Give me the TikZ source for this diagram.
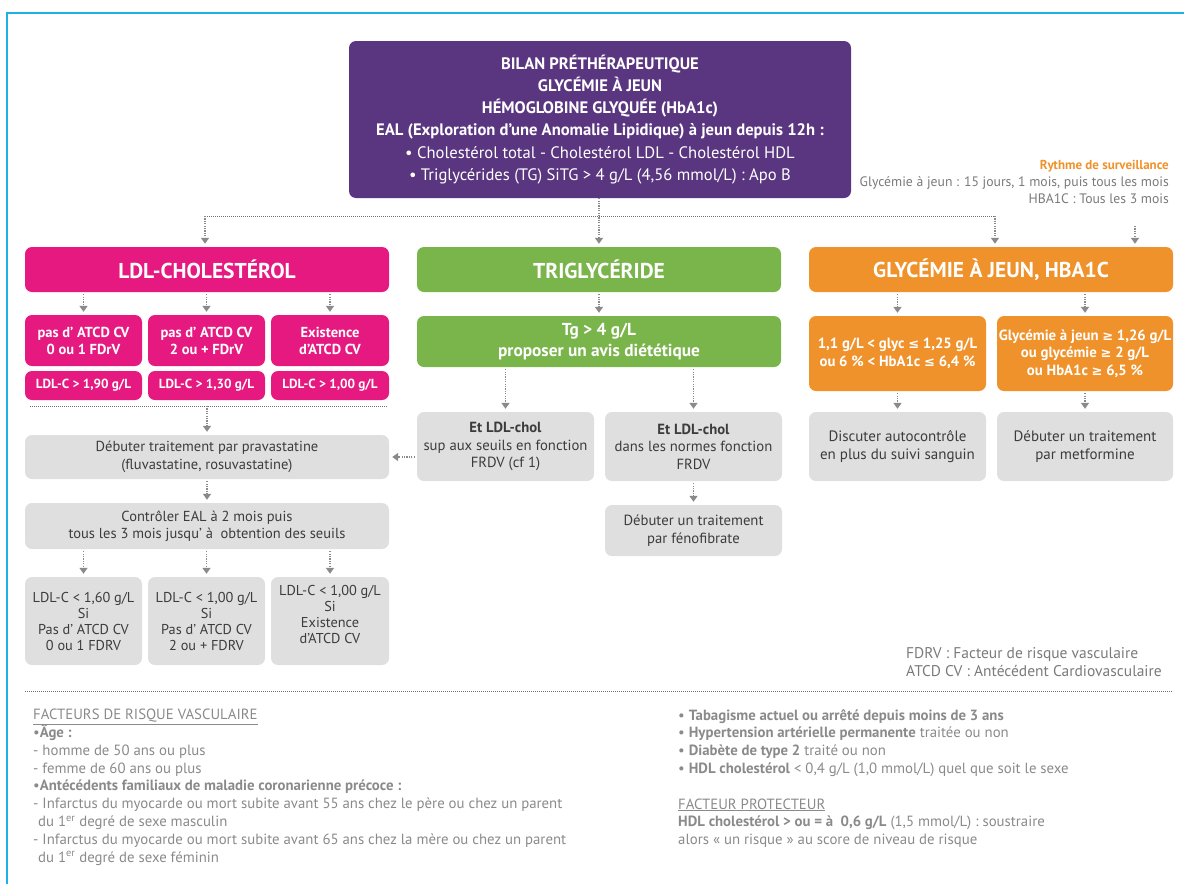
\documentclass[tikz,border=0pt]{standalone}
\usepackage{fontspec}
\setmainfont{PT Sans}
\newfontfamily\symf{DejaVu Sans}
\newcommand{\myle}{{\symf\fontsize{13}{16}\selectfont ≤}}
\newcommand{\myge}{{\symf\fontsize{13}{16}\selectfont ≥}}
\usetikzlibrary{arrows.meta}
\definecolor{purp}{HTML}{5B3680}
\definecolor{pinkc}{HTML}{E5197F}
\definecolor{greenc}{HTML}{7AB54B}
\definecolor{orangec}{HTML}{F0922B}
\definecolor{grayb}{HTML}{DFDFDF}
\definecolor{grayt}{HTML}{3C3C3C}
\definecolor{arrc}{HTML}{8A8A8A}
\definecolor{sepc}{HTML}{707070}
\definecolor{framec}{HTML}{1EB0E6}
\definecolor{notec}{HTML}{8A8A8A}
\definecolor{legc}{HTML}{7A7A7A}
\tikzset{
  box/.style={rounded corners=7pt, inner sep=0pt, align=center},
  hbox/.style={box, text=white, minimum width=364pt, minimum height=45pt, font=\bfseries\fontsize{21.5}{24}\selectfont},
  pbox/.style={box, fill=pinkc, text=white, minimum width=117pt, font=\bfseries\fontsize{14.5}{17}\selectfont},
  obox/.style={box, fill=orangec, text=white, minimum width=177pt, minimum height=75pt, font=\bfseries\fontsize{14.8}{17.5}\selectfont},
  gbox/.style={box, fill=grayb, text=grayt, font=\fontsize{14.7}{17.5}\selectfont},
  arr/.style={draw=arrc, line width=1.5pt, dash pattern=on 1.2pt off 1.2pt, -{Triangle[width=8pt,length=6pt]}, shorten >=3pt, shorten <=2pt},
  sep/.style={draw=sepc, line width=1pt, dash pattern=on 1pt off 1pt},
  note/.style={inner sep=0pt, align=left, text=notec, font=\fontsize{14.8}{17.8}\selectfont},
}
\begin{document}
\begin{tikzpicture}[x=1pt,y=-1pt]
\useasboundingbox (0,0) rectangle (1184,884);
\draw[framec, line width=1.5pt] (7,884) -- (7,13) -- (1184,13);

% top box
\node[box, fill=purp, text=white, minimum width=502pt, minimum height=157pt, font=\fontsize{16.6}{22.2}\selectfont] (top) at (600,119.5)
 {\textbf{BILAN PRÉTHÉRAPEUTIQUE}\\
  \textbf{GLYCÉMIE À JEUN}\\
  \textbf{HÉMOGLOBINE GLYQUÉE (HbA1c)}\\
  \textbf{EAL (Exploration d’une Anomalie Lipidique) à jeun depuis 12h :}\\
  • Cholestérol total - Cholestérol LDL - Cholestérol HDL\\
  • Triglycérides (TG) SiTG > 4 g/L (4,56 mmol/L) : Apo B};

\node[inner sep=0pt, align=right, anchor=north east, text=legc, font=\fontsize{13.7}{17}\selectfont] (ry) at (1169,160)
 {{\fontsize{13}{17}\selectfont\textcolor{orangec}{\textbf{Rythme de surveillance}}}\\
  Glycémie à jeun : 15 jours, 1 mois, puis tous les mois\\
  HBA1C : Tous les 3 mois};

% headers
\node[hbox, fill=pinkc] (ldl) at (207,269.5) {LDL-CHOLESTÉROL};
\node[hbox, fill=greenc] (tri) at (599,269.5) {TRIGLYCÉRIDE};
\node[hbox, fill=orangec] (gly) at (991,269.5) {GLYCÉMIE À JEUN, HBA1C};

\coordinate (hl) at (205,216);
\coordinate (hr) at (995,216);
\coordinate (hm) at (599,216);
\coordinate (rya) at (1135,226);
\draw[sep] (hl) -- (hr);
\draw[arr, shorten <=0pt] (top.south -| hm) -- (tri.north);
\draw[arr, shorten <=0pt] (hl) -- (hl |- ldl.north);
\draw[arr, shorten <=0pt] (hr) -- (hr |- gly.north);
\draw[arr, shorten <=0pt] (rya) -- (rya |- gly.north);

% LDL column
\node[pbox, minimum height=51pt] (p1) at (83.5,340.5) {pas d’ ATCD CV\\0 ou 1 FDrV};
\node[pbox, minimum height=51pt] (p2) at (206.5,340.5) {pas d’ ATCD CV\\2 ou + FDrV};
\node[pbox, minimum height=51pt, minimum width=118pt] (p3) at (330,340.5) {Existence\\d’ATCD CV};
\node[pbox, minimum height=29pt, font=\bfseries\fontsize{13.2}{16}\selectfont] (q1) at (83.5,385.5) {LDL-C > 1,90 g/L};
\node[pbox, minimum height=29pt, font=\bfseries\fontsize{13.2}{16}\selectfont] (q2) at (206.5,385.5) {LDL-C > 1,30 g/L};
\node[pbox, minimum height=29pt, minimum width=118pt, font=\bfseries\fontsize{13.2}{16}\selectfont] (q3) at (330,385.5) {LDL-C > 1,00 g/L};
\foreach \n in {p1,p2,p3} \draw[arr] (ldl.south -| \n.north) -- (\n.north);

\coordinate (sl) at (30,406);
\coordinate (sr) at (388,406);
\coordinate (sm) at (207,406);
\draw[sep] (sl) -- (sr);

\node[gbox, minimum width=364pt, minimum height=44pt, font=\fontsize{14.5}{17.5}\selectfont] (g1) at (207,457) {Débuter traitement par pravastatine\\(fluvastatine, rosuvastatine)};
\node[gbox, minimum width=364pt, minimum height=46pt, font=\fontsize{14.5}{17.5}\selectfont] (g2) at (207,526) {Contrôler EAL à 2 mois puis\\tous les 3 mois jusqu’ à \ obtention des seuils};
\draw[arr, shorten <=0pt] (sm) -- (g1.north -| sm);
\draw[arr] (g1.south) -- (g2.north);

\node[gbox, minimum width=117pt, minimum height=88pt, font=\fontsize{14.3}{16}\selectfont] (b1) at (83.5,621) {LDL-C < 1,60 g/L\\Si\\Pas d’ ATCD CV\\0 ou 1 FDRV};
\node[gbox, minimum width=117pt, minimum height=88pt, font=\fontsize{14.3}{16}\selectfont] (b2) at (206.5,621) {LDL-C < 1,00 g/L\\Si\\Pas d’ ATCD CV\\2 ou + FDRV};
\node[gbox, minimum width=118pt, minimum height=88pt] (b3) at (330,621) {};
\node[inner sep=0pt, align=center, text=grayt, font=\fontsize{14.3}{16}\selectfont, yshift=7pt] (b3t) at (b3.center) {LDL-C < 1,00 g/L\\Si\\Existence\\d’ATCD CV};
\foreach \n in {b1,b2,b3} \draw[arr] (g2.south -| \n.north) -- (\n.north);

% Triglyceride column
\node[box, fill=greenc, text=white, minimum width=364pt, minimum height=51pt, font=\bfseries\fontsize{17.3}{20.5}\selectfont] (tg) at (599,341.5) {Tg > 4 g/L\\proposer un avis diététique};
\draw[arr] (tri.south) -- (tg.north);
\node[gbox, minimum width=177pt, minimum height=69pt] (tl) at (505.5,446.5) {\textbf{Et LDL-chol}\\sup aux seuils en fonction\\FRDV (cf 1)};
\node[gbox, minimum width=177pt, minimum height=69pt] (tr) at (693.5,446.5) {\textbf{Et LDL-chol}\\dans les normes fonction\\FRDV};
\node[gbox, minimum width=177pt, minimum height=51pt] (tf) at (693.5,530.5) {Débuter un traitement\\par fénofibrate};
\draw[arr] (tg.south -| tl.north) -- (tl.north);
\draw[arr] (tg.south -| tr.north) -- (tr.north);
\draw[arr] (tr.south) -- (tf.north);
\draw[arr] (g1.east -| tl.west) -- (g1.east);

% Glycemia column
\node[obox] (o1) at (897.5,353.5) {1,1 g/L < glyc \myle{} 1,25 g/L\\ou 6 \% < HbA1c \myle{} 6,4 \%};
\node[obox, minimum width=176pt] (o2) at (1085,353.5) {Glycémie à jeun \myge{} 1,26 g/L\\ou glycémie \myge{} 2 g/L\\ou HbA1c \myge{} 6,5 \%};
\node[gbox, minimum width=177pt, minimum height=69pt, font=\fontsize{15}{18}\selectfont] (og1) at (897.5,446.5) {Discuter autocontrôle\\en plus du suivi sanguin};
\node[gbox, minimum width=176pt, minimum height=69pt, font=\fontsize{15}{18}\selectfont] (og2) at (1085,446.5) {Débuter un traitement\\par metformine};
\draw[arr] (gly.south -| o1.north) -- (o1.north);
\draw[arr] (gly.south -| o2.north) -- (o2.north);
\draw[arr] (o1.south) -- (og1.north);
\draw[arr] (o2.south) -- (og2.north);

% legend
\node[inner sep=0pt, align=left, anchor=north west, text=legc, font=\fontsize{15.5}{18}\selectfont] (leg) at (906,647)
 {FDRV : Facteur de risque vasculaire\\ATCD CV : Antécédent Cardiovasculaire};

\coordinate (bl) at (25,691);
\coordinate (br) at (1172,691);
\draw[sep] (bl) -- (br);

\node[note, anchor=north west] (fl) at (33,709)
 {\underline{FACTEURS DE RISQUE VASCULAIRE}\\
  •\textbf{Âge :}\\
  - homme de 50 ans ou plus\\
  - femme de 60 ans ou plus\\
  •\textbf{Antécédents familiaux de maladie coronarienne précoce :}\\
  - Infarctus du myocarde ou mort subite avant 55 ans chez le père ou chez un parent\\
  \hspace*{5pt}du 1\textsuperscript{er} degré de sexe masculin\\
  - Infarctus du myocarde ou mort subite avant 65 ans chez la mère ou chez un parent\\
  \hspace*{5pt}du 1\textsuperscript{er} degré de sexe féminin};

\node[note, anchor=north west] (fr) at (678,709)
 {• \textbf{Tabagisme actuel ou arrêté depuis moins de 3 ans}\\
  • \textbf{Hypertension artérielle permanente} traitée ou non\\
  • \textbf{Diabète de type 2} traité ou non\\
  • \textbf{HDL cholestérol} < 0,4 g/L (1,0 mmol/L) quel que soit le sexe\\[17.8pt]
  \underline{FACTEUR PROTECTEUR}\\
  \textbf{HDL cholestérol > ou = à \ 0,6 g/L} (1,5 mmol/L) : soustraire\\
  alors « un risque » au score de niveau de risque};
\end{tikzpicture}
\end{document}
